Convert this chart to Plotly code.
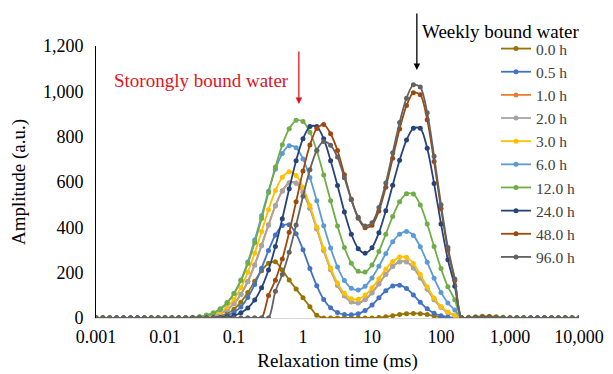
import plotly.graph_objects as go

relaxation_ms = [
    0.001, 0.001259, 0.001585, 0.001995, 0.002512, 0.003162, 0.003981, 0.005012, 0.00631, 0.007943,
    0.01, 0.01259, 0.01585, 0.01995, 0.02512, 0.03162, 0.03981, 0.05012, 0.0631, 0.07943,
    0.1, 0.1259, 0.1585, 0.1995, 0.2512, 0.3162, 0.3981, 0.5012, 0.631, 0.7943,
    1, 1.259, 1.585, 1.995, 2.512, 3.162, 3.981, 5.012, 6.31, 7.943,
    10, 12.59, 15.85, 19.95, 25.12, 31.62, 39.81, 50.12, 63.1, 79.43,
    100, 125.9, 158.5, 199.5, 251.2, 316.2, 398.1, 501.2, 631, 794.3,
    1000, 1259, 1585, 1995, 2512, 3162, 3981, 5012, 6310, 7943,
    10000]

h0_0 = [0, 0, 0, 0, 0, 0, 0, 0, 0, 0,
        0, 0, 0, 0, 0, 0, 0, 3, 9, 19,
        39, 70, 112, 162, 209, 241, 248, 212, 168, 128,
        89, 50, 12, 0, 0, 0, 0, 0, 0, 0,
        0, 2, 5, 10, 15, 19, 20, 19, 15, 9,
        3, 0, 0, 0, 0, 0, 0, 0, 0, 0,
        0, 0, 0, 0, 0, 0, 0, 0, 0, 0, 0]
h0_5 = [0, 0, 0, 0, 0, 0, 0, 0, 0, 0,
        0, 0, 0, 0, 0, 0, 1, 2, 5, 11,
        25, 49, 90, 148, 220, 298, 366, 408, 411, 372,
        301, 218, 142, 82, 45, 24, 15, 14, 19, 33,
        57, 89, 120, 141, 145, 130, 102, 69, 41, 21,
        10, 4, 0, 0, 0, 0, 0, 0, 0, 0,
        0, 0, 0, 0, 0, 0, 0, 0, 0, 0, 0]
h1_0 = [0, 0, 0, 0, 0, 0, 0, 0, 0, 0,
        0, 0, 0, 0, 0, 2, 5, 10, 19, 36,
        64, 105, 161, 235, 321, 411, 496, 561, 597, 596,
        556, 484, 394, 299, 214, 145, 98, 72, 67, 82,
        111, 151, 193, 228, 248, 248, 222, 178, 128, 82,
        48, 24, 11, 0, 0, 0, 0, 0, 0, 0,
        0, 0, 0, 0, 0, 0, 0, 0, 0, 0, 0]
h2_0 = [0, 0, 0, 0, 0, 0, 0, 0, 0, 0,
        0, 0, 0, 0, 0, 2, 5, 10, 19, 36,
        63, 104, 160, 233, 319, 409, 494, 559, 595, 595,
        555, 483, 393, 298, 213, 144, 97, 71, 66, 81,
        110, 150, 192, 227, 247, 247, 221, 177, 127, 81,
        47, 24, 11, 0, 0, 0, 0, 0, 0, 0,
        0, 0, 0, 0, 0, 0, 0, 0, 0, 0, 0]
h3_0 = [0, 0, 0, 0, 0, 0, 0, 0, 0, 0,
        0, 0, 0, 0, 0, 3, 7, 14, 27, 49,
        83, 134, 202, 286, 382, 478, 562, 621, 645, 629,
        576, 496, 401, 305, 221, 154, 109, 85, 83, 101,
        133, 173, 216, 249, 269, 268, 240, 192, 138, 88,
        51, 26, 12, 0, 0, 0, 0, 0, 0, 0,
        0, 0, 0, 0, 0, 0, 0, 0, 0, 0, 0]
h6_0 = [0, 0, 0, 0, 0, 0, 0, 0, 0, 0,
        0, 0, 0, 0, 2, 5, 10, 20, 38, 66,
        108, 168, 247, 344, 451, 559, 656, 726, 760, 751,
        702, 620, 517, 407, 309, 225, 165, 131, 123, 140,
        177, 228, 284, 336, 370, 382, 364, 314, 246, 175,
        113, 66, 35, 0, 0, 0, 0, 0, 0, 0,
        0, 0, 0, 0, 0, 0, 0, 0, 0, 0, 0]
h12_0 = [0, 0, 0, 0, 0, 0, 0, 0, 0, 0,
         0, 0, 0, 1, 3, 6, 13, 23, 41, 68,
         108, 165, 240, 332, 439, 554, 666, 764, 835, 872,
         867, 820, 738, 631, 517, 406, 311, 242, 206, 203,
         234, 293, 370, 448, 513, 548, 547, 499, 415, 315,
         218, 138, 80, 0, 3, 6, 8, 8, 6, 3,
         0, 0, 0, 0, 0, 0, 0, 0, 0, 0, 0]
h24_0 = [0, 0, 0, 0, 0, 0, 0, 0, 0, 0,
         0, 0, 0, 0, 0, 0, 0, 1, 2, 5,
         11, 23, 44, 79, 134, 212, 315, 438, 570, 694,
         791, 845, 845, 791, 694, 585, 468, 370, 306, 286,
         310, 376, 473, 586, 696, 785, 837, 837, 749, 593,
         415, 257, 140, 0, 0, 0, 0, 0, 0, 0,
         0, 0, 0, 0, 0, 0, 0, 0, 0, 0, 0]
h48_0 = [0, 0, 0, 0, 0, 0, 0, 0, 0, 0,
         0, 0, 0, 0, 0, 0, 0, 0, 0, 0,
         0, 0, 0, 0, 0, 99, 167, 260, 378, 513,
         648, 763, 836, 854, 813, 739, 632, 524, 440, 398,
         409, 472, 577, 705, 834, 937, 994, 985, 875, 690,
         483, 300, 166, 0, 0, 3, 5, 5, 3, 0,
         0, 0, 0, 0, 0, 0, 0, 0, 0, 0, 0]
h96_0 = [0, 0, 0, 0, 0, 0, 0, 0, 0, 0,
         0, 0, 0, 0, 0, 0, 0, 0, 0, 0,
         0, 0, 0, 0, 0, 0, 118, 192, 290, 410,
         537, 654, 740, 779, 762, 710, 619, 522, 444, 406,
         420, 488, 596, 729, 863, 970, 1029, 1019, 906, 714,
         500, 311, 172, 0, 0, 0, 0, 0, 0, 0,
         0, 0, 0, 0, 0, 0, 0, 0, 0, 0, 0]

series_names = ["0.0 h", "0.5 h", "1.0 h", "2.0 h", "3.0 h", "6.0 h",
                "12.0 h", "24.0 h", "48.0 h", "96.0 h"]
series_values = [h0_0, h0_5, h1_0, h2_0, h3_0, h6_0, h12_0, h24_0, h48_0, h96_0]
series_colors = ["#997300", "#4472C4", "#ED7D31", "#A5A5A5", "#FFC000",
                 "#5B9BD5", "#70AD47", "#264478", "#9E480E", "#636363"]

x_tickvals = [0.001, 0.01, 0.1, 1, 10, 100, 1000, 10000]
x_ticktext = ["0.001", "0.01", "0.1", "1", "10", "100", "1,000", "10,000"]
y_tickvals = [0, 200, 400, 600, 800, 1000, 1200]

FONT = '"Liberation Serif", "Times New Roman", serif'
W, H = 613, 374
L, R, T, B = 96, 34, 46, 56
pw, ph = W - L - R, H - T - B


def px(xp):
    return (xp - L) / pw


def py(yp):
    return (H - B - yp) / ph


fig = go.Figure()
for name, vals, col in zip(series_names, series_values, series_colors):
    fig.add_trace(go.Scatter(
        x=relaxation_ms, y=vals, name=name, mode="lines+markers",
        line=dict(color=col, width=1.8, shape="spline", smoothing=0.8),
        marker=dict(color=col, size=5),
    ))

fig.add_annotation(x=-0.06, y=944, xref="x", yref="y", text="", showarrow=True,
                   ax=0, ay=-54, arrowhead=2, arrowsize=1, arrowwidth=1.3,
                   arrowcolor="#E0141E")
fig.add_annotation(x=1.65, y=1094, xref="x", yref="y", text="", showarrow=True,
                   ax=0, ay=-58, arrowhead=2, arrowsize=1, arrowwidth=1.3,
                   arrowcolor="#000000")
fig.add_annotation(x=px(201), y=py(80), xref="paper", yref="paper",
                   text="Storongly bound water", showarrow=False,
                   xanchor="center", yanchor="middle",
                   font=dict(family=FONT, size=19, color="#E0141E"))
fig.add_annotation(x=px(420), y=py(32), xref="paper", yref="paper",
                   text="Weekly bound water", showarrow=False,
                   xanchor="left", yanchor="middle",
                   font=dict(family=FONT, size=19, color="#000000"))

fig.update_layout(
    width=W, height=H,
    margin=dict(l=L, r=R, t=T, b=B, autoexpand=False),
    paper_bgcolor="white", plot_bgcolor="white",
    font=dict(family=FONT, size=18, color="#000000"),
    showlegend=True,
    legend=dict(x=px(496), y=py(32), xanchor="left", yanchor="top",
                bgcolor="rgba(0,0,0,0)", font=dict(family=FONT, size=15.5, color="#404040"),
                tracegroupgap=0, itemwidth=30, maxheight=320),
)
fig.update_xaxes(type="log", range=[-3, 4], tickvals=x_tickvals, ticktext=x_ticktext,
                 showgrid=False, zeroline=False, showline=True, linecolor="#D9D9D9",
                 linewidth=1, ticks="", ticklabelstandoff=2,
                 tickfont=dict(family=FONT, size=18),
                 title=dict(text="Relaxation time (ms)", font=dict(family=FONT, size=19),
                            standoff=8))
fig.update_yaxes(range=[0, 1200], tickvals=y_tickvals, tickformat=",",
                 showgrid=False, zeroline=False, showline=True, linecolor="#000000",
                 linewidth=1, ticks="", ticklabelstandoff=8,
                 tickfont=dict(family=FONT, size=18),
                 title=dict(text="Amplitude (a.u.)", font=dict(family=FONT, size=19),
                            standoff=12))

fig.write_html("out.html")
